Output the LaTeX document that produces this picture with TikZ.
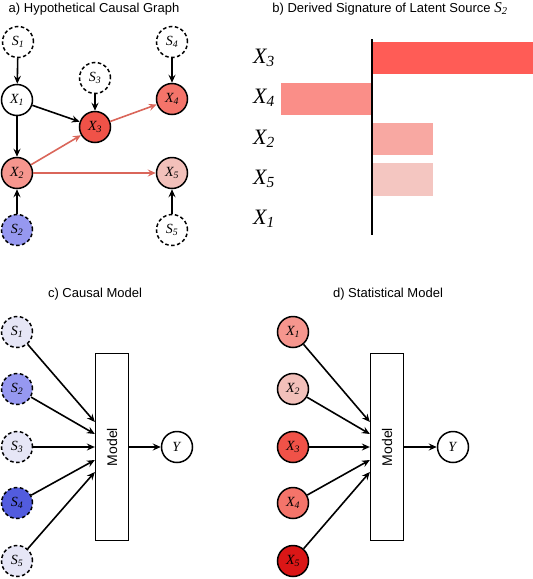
\documentclass[tikz,border=0pt]{standalone}
\usepackage{fontspec}
\setmainfont{Liberation Serif}
\setsansfont{Liberation Sans}
\usepackage{graphicx}
\usetikzlibrary{arrows.meta,positioning,calc}
\definecolor{edgered}{RGB}{218,102,90}
\definecolor{xlight}{RGB}{242,192,186}
\definecolor{xpale}{RGB}{246,150,142}
\definecolor{xmid}{RGB}{244,116,106}
\definecolor{xstrong}{RGB}{240,82,72}
\definecolor{xdeep}{RGB}{218,22,22}
\definecolor{slav}{RGB}{230,230,246}
\definecolor{sblue}{RGB}{150,152,240}
\definecolor{sdeep}{RGB}{82,92,222}
\definecolor{barthree}{RGB}{255,92,86}
\definecolor{barfour}{RGB}{250,142,136}
\definecolor{bartwo}{RGB}{248,168,162}
\definecolor{barfive}{RGB}{244,198,193}
\newcommand{\xvar}[1]{\textit{X\textsubscript{#1}}}
\newcommand{\svar}[1]{\textit{S\textsubscript{#1}}}

\begin{document}
\begin{tikzpicture}[x=1pt,y=-1pt,
    var/.style={circle,draw,line width=1.5pt,minimum size=31pt,inner sep=0pt,font=\fontsize{14}{14}\selectfont},
    latent/.style={var,dash pattern=on 3.5pt off 2.5pt},
    edge/.style={-{Stealth[length=8pt,width=7pt,inset=2.8pt]},line width=1.6pt},
    redge/.style={edge,draw=edgered},
    title/.style={font=\sffamily\fontsize{13}{15}\selectfont},
    siglabel/.style={font=\fontsize{22}{22}\selectfont},
    modelbox/.style={draw,line width=1.3pt,minimum width=33pt,minimum height=187pt,inner sep=0pt,font=\sffamily\fontsize{14}{14}\selectfont}]
    \useasboundingbox (0,0) rectangle (533,579);
    % a) hypothetical causal graph
    \node[title] (ta) at (94,9) {a) Hypothetical Causal Graph};
    \node[latent] (as1) at (18,42) {\svar{1}};
    \node[latent] (as3) at (95,78) {\svar{3}};
    \node[latent] (as4) at (172,42) {\svar{4}};
    \node[var] (ax1) at (17,100) {\xvar{1}};
    \node[var,fill=xstrong] (ax3) at (95,127) {\xvar{3}};
    \node[var,fill=xmid] (ax4) at (172,99) {\xvar{4}};
    \node[var,fill=xpale] (ax2) at (17,173) {\xvar{2}};
    \node[var,fill=xlight] (ax5) at (172,173) {\xvar{5}};
    \node[latent,fill=sblue] (as2) at (17,230) {\svar{2}};
    \node[latent] (as5) at (172,230) {\svar{5}};
    \draw[edge] (as1) -- (ax1);
    \draw[edge] (ax1) -- (ax2);
    \draw[edge] (ax1) -- (ax3);
    \draw[edge] (as3) -- (ax3);
    \draw[edge] (as4) -- (ax4);
    \draw[edge] (as2) -- (ax2);
    \draw[edge] (as5) -- (ax5);
    \draw[redge] (ax2) -- (ax3);
    \draw[redge] (ax3) -- (ax4);
    \draw[redge] (ax2) -- (ax5);

    % b) derived signature
    \node[title] (tb) at (390,9) {b) Derived Signature of Latent Source {\rmfamily\fontsize{15}{15}\selectfont\svar{2}}};
    \fill[barthree] (372,42) rectangle (533,74);
    \fill[barfour] (281,83) rectangle (372,115);
    \fill[bartwo] (372,123) rectangle (433,155);
    \fill[barfive] (372,163) rectangle (433,196);
    \draw[line width=2.8pt] (372,39) -- (372,235);
    \node[siglabel] (lx3) at (264,58) {\xvar{3}};
    \node[siglabel] (lx4) at (264,98) {\xvar{4}};
    \node[siglabel] (lx2) at (264,139) {\xvar{2}};
    \node[siglabel] (lx5) at (264,179) {\xvar{5}};
    \node[siglabel] (lx1) at (264,219) {\xvar{1}};

    % c) causal model
    \node[title] (tc) at (95,294) {c) Causal Model};
    \node[latent,fill=slav] (cs1) at (17,332) {\svar{1}};
    \node[latent,fill=sblue] (cs2) at (17,389) {\svar{2}};
    \node[latent,fill=slav] (cs3) at (17,447) {\svar{3}};
    \node[latent,fill=sdeep] (cs4) at (17,503) {\svar{4}};
    \node[latent,fill=slav] (cs5) at (17,561) {\svar{5}};
    \node[modelbox] (cm) at (112,447) {\rotatebox{90}{Model}};
    \node[var] (cy) at (177,447) {\textit{Y}};
    \draw[edge] (cs1) -- ($(cm.west)+(0,-25)$);
    \draw[edge] (cs2) -- ($(cm.west)+(0,-13)$);
    \draw[edge] (cs3) -- (cm.west);
    \draw[edge] (cs4) -- ($(cm.west)+(0,13)$);
    \draw[edge] (cs5) -- ($(cm.west)+(0,25)$);
    \draw[edge] (cm) -- (cy);

    % d) statistical model
    \node[title] (td) at (388,294) {d) Statistical Model};
    \node[var,fill=xpale] (dx1) at (293,332) {\xvar{1}};
    \node[var,fill=xlight] (dx2) at (293,389) {\xvar{2}};
    \node[var,fill=xstrong] (dx3) at (293,447) {\xvar{3}};
    \node[var,fill=xmid] (dx4) at (293,503) {\xvar{4}};
    \node[var,fill=xdeep] (dx5) at (293,561) {\xvar{5}};
    \node[modelbox] (dm) at (387,447) {\rotatebox{90}{Model}};
    \node[var] (dy) at (453,447) {\textit{Y}};
    \draw[edge] (dx1) -- ($(dm.west)+(0,-25)$);
    \draw[edge] (dx2) -- ($(dm.west)+(0,-13)$);
    \draw[edge] (dx3) -- (dm.west);
    \draw[edge] (dx4) -- ($(dm.west)+(0,13)$);
    \draw[edge] (dx5) -- ($(dm.west)+(0,25)$);
    \draw[edge] (dm) -- (dy);
\end{tikzpicture}
\end{document}
